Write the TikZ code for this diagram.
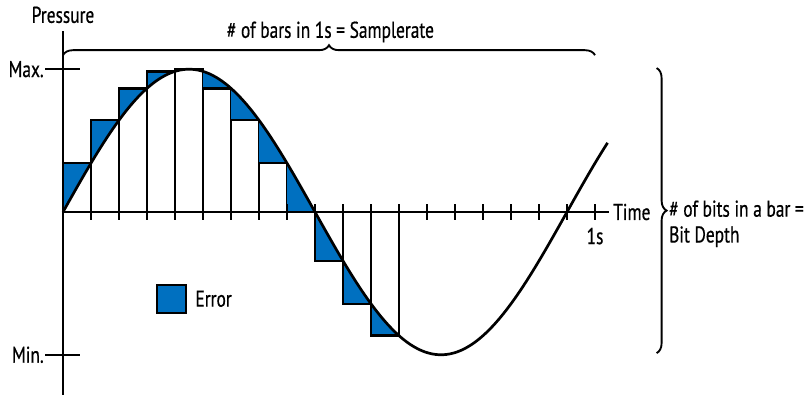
\documentclass[tikz,border=0pt]{standalone}
\usepackage{fontspec}
\setmainfont{PT Sans}[FakeStretch=0.76,FakeBold=0.6]
\usetikzlibrary{decorations.pathreplacing}
\definecolor{errorblue}{RGB}{0,112,192}

\begin{document}
\begin{tikzpicture}[x=0.84cm,y=0.84cm,font=\fontsize{19.5pt}{22pt}\selectfont]

  \tikzstyle{axis}=[line width=2.2pt]
  \tikzstyle{bar}=[line width=2.1pt]
  \tikzstyle{wave}=[line width=2.3pt]
  \tikzstyle{error}=[fill=errorblue]
  \tikzstyle{curly}=[line width=1.6pt,decorate,decoration={brace,amplitude=0.3cm}]

  % ====================
  % Parameters
  % ====================
  \def\amp{5.1}     % Amplitude of the wave
  \def\tickh{0.28}  % Half length of the ticks
  \def\axisl{19.5}  % Length of the time axis
  \def\axish{6.45}  % Half height of the pressure axis
  % ====================

  \useasboundingbox (-2.25,-6.536) rectangle (26.714,7.571);

  % ====================
  % Bars and errors
  % ====================
  \foreach \i/\a in {0/20,1/40,2/60,3/80,4/90,5/120,6/140,7/160,8/180,9/200,10/220,11/240}{
    \fill[error] (\i,{\amp*sin(\a)}) -- plot[domain=\i:\i+1,samples=20] (\x,{\amp*sin(20*\x)}) -- (\i+1,{\amp*sin(\a)}) -- cycle;
    \draw[bar] (\i,0) rectangle (\i+1,{\amp*sin(\a)});
  }

  % ====================
  % Axes
  % ====================
  \draw[axis] (0,-6.6) -- (0,\axish);
  \draw[axis] (0,0) -- (\axisl,0);
  \foreach \t in {1,...,19}
    \draw[axis] (\t,-\tickh) -- (\t,\tickh);

  \node (pressure) at (0,7.04) {Pressure};
  \node (time) [anchor=west,inner sep=1pt] at (19.6,0) {Time};
  \node (onesec) at (19,-0.86) {1s};

  \node (max) [anchor=east,inner sep=1pt] at (-0.64,\amp) {Max.};
  \draw[axis] (max.east) -- ++(1.25,0);
  \node (min) [anchor=east,inner sep=1pt] at (-0.64,-\amp) {Min.};
  \draw[axis] (min.east) -- ++(1.25,0);

  % ====================
  % Wave
  % ====================
  \draw[wave] plot[domain=0:19.45,samples=150,smooth] (\x,{\amp*sin(20*\x)});

  % ====================
  % Braces
  % ====================
  \coordinate (rateL) at (0,5.6);
  \coordinate (rateR) at (19,5.6);
  \draw[curly] (rateL) -- (rateR);
  \node (rate) at (9.55,6.43) {\# of bars in 1s = Samplerate};

  \coordinate (depthT) at (21.2,5.14);
  \coordinate (depthB) at (21.2,-5.04);
  \draw[curly] (depthT) -- (depthB);
  \node (depth) [anchor=west,align=left,inner sep=1pt] at (21.6,-0.42) {\# of bits in a bar =\\Bit Depth};

  % ====================
  % Legend
  % ====================
  \node (key) [error,draw,line width=1.6pt,minimum size=0.85cm,inner sep=0pt] at (3.875,-3.107) {};
  \node (keytext) [anchor=west,inner sep=1pt] at (4.68,-3.1) {Error};

\end{tikzpicture}
\end{document}
